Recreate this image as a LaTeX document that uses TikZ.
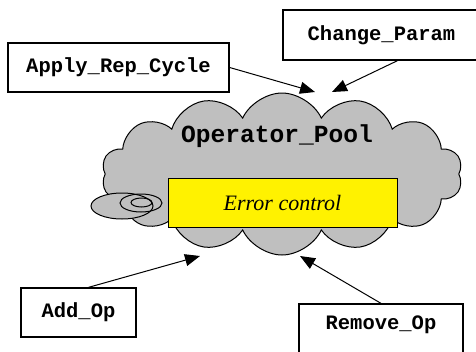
\documentclass[tikz,border=0pt]{standalone}
\usepackage{fontspec}
\setmainfont{Liberation Serif}
\setmonofont{Liberation Mono}
\usetikzlibrary{arrows.meta, shapes.symbols, positioning}
\tikzset{>={Triangle[length=15pt,width=12pt]}}

\begin{document}
\begin{tikzpicture}[x=1pt, y=-1pt,
  opbox/.style = {draw, line width=1.3pt, fill=white, inner sep=0pt,
                  font=\ttfamily\bfseries\fontsize{20.5}{24}\selectfont},
  pool/.style  = {cloud, cloud puffs=14, cloud puff arc=130, aspect=2.2, draw,
                  fill=black!25, line width=1pt, inner sep=0pt,
                  minimum width=361pt, minimum height=162pt},
  ctrl/.style  = {draw, line width=1pt, fill=yellow, inner sep=0pt,
                  minimum width=229pt, minimum height=49pt,
                  font=\itshape\fontsize{22}{26}\selectfont}]
  \useasboundingbox (0,0) rectangle (476,351);

  % the pool and its small tail
  \node (pool) [pool] at (282,174) {};
  \draw[fill=black!25, line width=1pt] (122,206) ellipse (31 and 13);
  \draw[line width=1pt] (141,203) ellipse (21 and 9);
  \draw[line width=1pt] (141.5,202.5) ellipse (10.5 and 4.5);
  \node (name) at (277,136) {\ttfamily\bfseries\fontsize{24.6}{28}\selectfont Operator\_Pool};
  \node (err) [ctrl] at (282.5,202.5) {Error control};

  % operations around it
  \node (apply)  [opbox, minimum width=221pt, minimum height=49pt] at (118.5,67.5) {Apply\_Rep\_Cycle};
  \node (change) [opbox, minimum width=197pt, minimum height=50pt] at (381.5,35) {Change\_Param};
  \node (add)    [opbox, minimum width=115pt, minimum height=49pt] at (78.5,312.5) {Add\_Op};
  \node (remove) [opbox, minimum width=164pt, minimum height=60pt, text depth=22pt] at (381,334) {Remove\_Op};

  \coordinate (t1) at (315,92);
  \coordinate (t2) at (332,92);
  \coordinate (t3) at (200,256);
  \coordinate (t4) at (300,256);
  \path[->, line width=1pt]
    (apply.east) edge (t1)
    ([xshift=16pt]change.south) edge (t2)
    ([xshift=10pt]add.north) edge (t3)
    (remove.north) edge (t4);
\end{tikzpicture}
\end{document}
